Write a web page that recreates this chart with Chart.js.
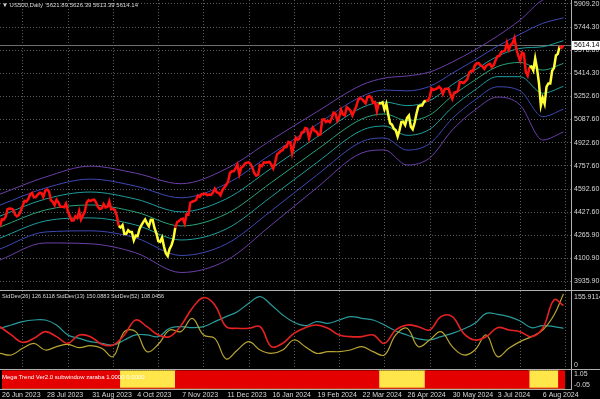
<!DOCTYPE html>
<html>
<head>
<meta charset="utf-8">
<script src="https://cdn.jsdelivr.net/npm/chart.js@4.4.1/dist/chart.umd.min.js"></script>
<style>
  body { margin: 0; background: #000; width: 600px; height: 399px; overflow: hidden; position: relative; }
  canvas { position: absolute; left: 0; }
</style>
</head>
<body>
<canvas id="mainChart" width="600" height="290" style="top:0"></canvas>
<canvas id="sdChart" width="600" height="79" style="top:290px"></canvas>
<canvas id="megaChart" width="600" height="30" style="top:369px"></canvas>
<script>
// US500 daily closes, one per bar (bar 0 = 26 Jun 2023)
const closes = [
  4328,4378,4376,4396,4450,4455,4453,4446,4412,4399,
  4409,4439,4472,4510,4505,4522,4555,4565,4534,4536,
  4554,4567,4566,4537,4582,4589,4577,4513,4502,4478,
  4518,4499,4467,4468,4464,4490,4437,4404,4370,4370,
  4399,4387,4436,4376,4406,4433,4497,4515,4508,4516,
  4518,4497,4465,4451,4457,4487,4462,4467,4505,4450,
  4453,4444,4402,4330,4320,4337,4274,4275,4300,4288,
  4288,4229,4263,4258,4308,4336,4358,4377,4349,4328,
  4374,4373,4315,4278,4224,4218,4248,4186,4137,4117,
  4167,4194,4237,4318,4358,4366,4378,4383,4347,4415,
  4411,4496,4503,4508,4514,4547,4538,4556,4558,4559,
  4550,4554,4551,4568,4595,4569,4567,4549,4585,4604,
  4622,4644,4707,4719,4719,4740,4768,4698,4746,4755,
  4775,4781,4783,4770,4743,4705,4689,4697,4764,4757,
  4783,4780,4784,4786,4766,4739,4781,4840,4850,4865,
  4869,4894,4891,4928,4925,4846,4906,4959,4943,4954,
  4995,4998,5027,5022,4953,5001,5030,5006,5000,4976,
  4982,5087,5089,5070,5078,5069,5096,5137,5130,5079,
  5105,5157,5124,5117,5175,5165,5150,5117,5149,5178,
  5225,5241,5234,5218,5203,5248,5254,5243,5205,5211,
  5147,5204,5202,5209,5160,5199,5123,5061,5051,5022,
  5011,4967,5011,5070,5071,5048,5100,5116,5036,5018,
  5064,5128,5181,5187,5187,5214,5223,5221,5247,5308,
  5297,5303,5308,5321,5307,5268,5305,5306,5306,5267,
  5235,5278,5283,5291,5354,5352,5347,5361,5375,5421,
  5434,5431,5473,5487,5488,5473,5464,5448,5469,5478,
  5483,5460,5475,5509,5537,5540,5567,5572,5577,5633,
  5584,5615,5631,5667,5588,5544,5505,5564,5555,5427,
  5399,5459,5464,5436,5522,5446,5346,5186,5240,5199,
  5319,5344,5344,5434,5455,5543,5554,5608,5597,5614.14
];
const lastBar = [5621.89, 5626.39, 5613.39, 5614.14];

// Mega Trend state: bar where each run starts, and whether it is up (red) or down (yellow)
const trendFrom = [0, 63, 93, 201, 226, 281, 297];
const trendUp   = [true, false, true, false, true, false, true];

const dateLabels = ['26 Jun 2023', '28 Jul 2023', '31 Aug 2023', '4 Oct 2023', '7 Nov 2023',
  '11 Dec 2023', '16 Jan 2024', '19 Feb 2024', '22 Mar 2024', '26 Apr 2024',
  '30 May 2024', '3 Jul 2024', '6 Aug 2024'];
const priceTicks = [5909.20, 5744.30, 5578.80, 5414.30, 5252.60, 5087.60, 4922.60,
  4757.60, 4592.60, 4427.60, 4265.90, 4100.90, 3935.90];

// envelope bands (outer, middle, inner, centre line ...)
const bandBars = [0, 24, 48, 72, 96, 120, 144, 168, 192, 204, 216, 228, 240, 252, 264, 276, 288, 299];
const bandU3  = [4557, 4678, 4756, 4706, 4631, 4737, 4942, 5141, 5333, 5382, 5397, 5425, 5496, 5582, 5681, 5795, 5937, 5972];
const bandU2  = [4479, 4600, 4664, 4614, 4531, 4630, 4841, 5051, 5252, 5297, 5291, 5323, 5416, 5510, 5609, 5694, 5771, 5810];
const bandU1  = [4401, 4522, 4572, 4522, 4431, 4523, 4741, 4961, 5172, 5212, 5186, 5221, 5335, 5439, 5537, 5593, 5605, 5648];
const bandMid = [4323, 4444, 4480, 4430, 4331, 4416, 4640, 4871, 5091, 5127, 5080, 5119, 5255, 5368, 5464, 5493, 5439, 5486];
const bandL1  = [4245, 4366, 4388, 4338, 4231, 4309, 4539, 4780, 5011, 5041, 4975, 5018, 5174, 5297, 5392, 5392, 5274, 5323];
const bandL2  = [4167, 4288, 4296, 4246, 4121, 4202, 4439, 4691, 4930, 4956, 4870, 4916, 5094, 5226, 5320, 5291, 5108, 5161];
const bandL3  = [4089, 4210, 4204, 4140, 4000, 4085, 4338, 4601, 4850, 4871, 4764, 4814, 5013, 5155, 5247, 5190, 4942, 4999];

// StdDev subwindow, sampled every 6 bars
const sdBars = [0,6,12,18,24,30,36,42,48,54,60,66,72,78,84,90,96,102,108,114,120,126,132,138,144,
  150,156,162,168,174,180,186,192,198,204,210,216,222,228,234,240,246,252,258,264,270,276,282,288,294,299];
const sd26 = [83.7,66.9,52.0,60.1,73.6,63.5,50.0,66.9,63.5,48.0,46.6,66.9,97.2,83.7,66.9,63.5,85.8,120.9,142.5,127.6,
  83.7,80.4,80.4,83.7,43.2,50.0,70.2,81.7,87.1,80.4,66.9,63.5,63.5,66.9,50.0,77.0,87.1,83.7,77.0,104.0,
  104.0,70.2,56.7,63.5,81.7,77.0,73.6,63.5,80.4,137.7,126.6];
const sd13 = [29.7,26.4,39.9,50.0,36.5,43.2,48.0,41.2,45.3,39.9,23.0,73.6,73.6,33.1,48.0,77.0,73.6,100.6,66.9,60.1,
  18.3,36.5,53.4,36.5,29.7,36.5,56.7,43.2,29.7,33.1,33.1,36.5,43.2,33.1,26.4,66.9,80.4,43.2,56.7,73.6,
  43.2,26.4,36.5,66.9,23.0,39.9,53.4,63.5,77.0,107.4,150.1];
const sd52 = [80.4,87.1,93.9,97.2,97.2,87.1,66.9,60.1,53.4,50.0,46.6,56.7,66.9,66.9,63.5,80.4,83.7,81.7,83.7,93.9,
  104.0,114.1,131.0,144.5,127.6,107.4,92.5,85.8,93.9,90.5,97.2,104.0,100.6,97.2,87.1,75.0,66.9,58.8,56.7,63.5,
  70.2,79.0,90.5,110.7,108.7,104.0,95.2,81.7,85.8,83.7,80.4];
const sdLegend = ['StdDev(26) 126.6118', 'StdDev(13) 150.0883', 'StdDev(52) 108.0456'];
const sdMax = 155.9114;

const FONT = '"Liberation Sans", Arial, sans-serif';
const TEXT = '#d8d8d8';
const GRID = '#5c5c5c';
const FRAME = '#b0b0b0';
const RED = '#ff1010';
const YELLOW = '#ffff33';
const X_MAX = 303;
const AXIS_W = 29;
const LABEL_EVERY = 24;
const GRID_SHIFT = 12.2;

function isUp(i) {
  let up = true;
  for (let k = 0; k < trendFrom.length; k++) if (i >= trendFrom[k]) up = trendUp[k];
  return up;
}
function pts(xs, ys) { return xs.map((x, i) => ({x: x, y: ys[i]})); }

function gridX() {
  return {
    type: 'linear', min: 0, max: X_MAX,
    afterBuildTicks: s => { s.ticks = dateLabels.map((_, i) => ({value: i * LABEL_EVERY + GRID_SHIFT})); },
    ticks: {display: false},
    grid: {color: GRID, drawTicks: false},
    border: {display: false, dash: [1, 2]},
    afterFit: s => { s.height = 0; }
  };
}

function band(data, color) {
  return {data: pts(bandBars, data), borderColor: color, borderWidth: 1, pointRadius: 0,
          cubicInterpolationMode: 'monotone', order: 2};
}

Chart.defaults.animation = false;
Chart.defaults.responsive = false;
Chart.defaults.devicePixelRatio = 1;
Chart.defaults.plugins.legend.display = false;
Chart.defaults.plugins.tooltip.enabled = false;

// main price window
new Chart(document.getElementById('mainChart'), {
  type: 'line',
  data: {
    datasets: [
      {
        data: pts(closes.map((_, i) => i), closes),
        borderWidth: 2.5, pointRadius: 0, tension: 0, order: 0,
        segment: { borderColor: c => isUp(c.p0DataIndex) ? RED : YELLOW }
      },
      band(bandU3, '#6b3fa8'), band(bandU2, '#3f48b4'), band(bandU1, '#1f9e9e'),
      band(bandMid, '#2aa37a'),
      band(bandL1, '#1f9e9e'), band(bandL2, '#3f48b4'), band(bandL3, '#6b3fa8')
    ]
  },
  options: {
    layout: {padding: 0},
    scales: {
      x: gridX(),
      y: {
        position: 'right', min: 3875.6, max: 5936.9,
        afterBuildTicks: s => { s.ticks = priceTicks.map(v => ({value: v})); },
        ticks: {color: TEXT, font: {family: FONT, size: 7}, padding: 3, autoSkip: false,
                callback: v => v.toFixed(2)},
        grid: {color: GRID, drawTicks: false},
        border: {display: false, dash: [1, 2]},
        afterFit: s => { s.width = AXIS_W; s.paddingTop = 0; s.paddingBottom = 0; }
      }
    }
  },
  plugins: [{
    id: 'mainDecor',
    beforeDatasetsDraw(chart) {
      const {ctx, chartArea, scales} = chart;
      const y = Math.round(scales.y.getPixelForValue(lastBar[3])) + 0.5;
      ctx.save();
      ctx.strokeStyle = '#6e6e6e';
      ctx.lineWidth = 1;
      ctx.beginPath(); ctx.moveTo(chartArea.left, y); ctx.lineTo(chartArea.right, y); ctx.stroke();
      ctx.restore();
    },
    afterDraw(chart) {
      const {ctx, chartArea, scales} = chart;
      ctx.save();
      ctx.strokeStyle = FRAME;
      ctx.lineWidth = 1;
      ctx.beginPath(); ctx.moveTo(chartArea.right + 0.5, 0); ctx.lineTo(chartArea.right + 0.5, chart.height); ctx.stroke();
      const y = scales.y.getPixelForValue(lastBar[3]);
      ctx.fillStyle = '#ffffff';
      ctx.fillRect(chartArea.right + 1, y - 4.5, 29, 9);
      ctx.fillStyle = '#000000';
      ctx.font = '7px ' + FONT;
      ctx.textBaseline = 'middle';
      ctx.fillText(lastBar[3].toFixed(2), chartArea.right + 3, y);
      ctx.fillStyle = TEXT;
      ctx.font = '6px ' + FONT;
      ctx.fillText('\u25BC US500,Daily  ' + lastBar.map(v => v.toFixed(2)).join(' '), 2, 5);
      ctx.restore();
    }
  }]
});

// StdDev window
new Chart(document.getElementById('sdChart'), {
  type: 'line',
  data: {
    datasets: [
      {data: pts(sdBars, sd26), borderColor: '#e52222', borderWidth: 1.6, pointRadius: 0, tension: 0.4},
      {data: pts(sdBars, sd13), borderColor: '#b8a432', borderWidth: 1.2, pointRadius: 0, tension: 0.4},
      {data: pts(sdBars, sd52), borderColor: '#2a9a9a', borderWidth: 1.2, pointRadius: 0, tension: 0.4}
    ]
  },
  options: {
    layout: {padding: {top: 1, bottom: 1}},
    scales: {
      x: gridX(),
      y: {
        position: 'right', min: 0, max: sdMax,
        ticks: {display: false}, grid: {display: false}, border: {display: false},
        afterFit: s => { s.width = AXIS_W; }
      }
    }
  },
  plugins: [{
    id: 'sdDecor',
    afterDraw(chart) {
      const {ctx, chartArea} = chart;
      ctx.save();
      ctx.strokeStyle = FRAME;
      ctx.lineWidth = 1;
      ctx.beginPath();
      ctx.moveTo(0, 0.5); ctx.lineTo(chart.width, 0.5);
      ctx.moveTo(chartArea.right + 0.5, 0); ctx.lineTo(chartArea.right + 0.5, chart.height);
      ctx.stroke();
      ctx.textBaseline = 'middle';
      ctx.fillStyle = TEXT;
      ctx.font = '5.6px ' + FONT;
      ctx.fillText(sdLegend.join(' '), 2, 6);
      ctx.font = '7px ' + FONT;
      ctx.fillText(sdMax.toFixed(4), chartArea.right + 3, 7);
      ctx.fillText('0', chartArea.right + 3, 75);
      ctx.restore();
    }
  }]
});

// Mega Trend window
new Chart(document.getElementById('megaChart'), {
  type: 'bar',
  data: {
    datasets: [
      {data: closes.map((_, i) => ({x: i, y: isUp(i) ? 1 : 0})), backgroundColor: '#e50000'},
      {data: closes.map((_, i) => ({x: i, y: isUp(i) ? 0 : 1})), backgroundColor: '#ffe64a'}
    ]
  },
  options: {
    layout: {padding: {top: 1}},
    datasets: {bar: {grouped: false, barThickness: 2.6, borderWidth: 0}},
    scales: {
      x: {
        type: 'linear', min: 0, max: X_MAX, offset: false,
        afterBuildTicks: s => { s.ticks = dateLabels.map((_, i) => ({value: i * LABEL_EVERY})); },
        ticks: {color: TEXT, font: {family: FONT, size: 7}, align: 'start', autoSkip: false,
                maxRotation: 0, padding: 2, callback: (v, i) => dateLabels[i]},
        grid: {display: false, drawTicks: false},
        border: {display: false},
        afterFit: s => { s.height = 10; }
      },
      y: {
        position: 'right', min: -0.05, max: 1.05,
        ticks: {display: false}, grid: {display: false}, border: {display: false},
        afterFit: s => { s.width = AXIS_W; }
      }
    }
  },
  plugins: [{
    id: 'megaDecor',
    afterDraw(chart) {
      const {ctx, chartArea} = chart;
      ctx.save();
      ctx.strokeStyle = FRAME;
      ctx.lineWidth = 1;
      ctx.beginPath();
      ctx.moveTo(0, 0.5); ctx.lineTo(chart.width, 0.5);
      ctx.moveTo(chartArea.right + 0.5, 0); ctx.lineTo(chartArea.right + 0.5, chartArea.bottom);
      ctx.moveTo(0, chartArea.bottom + 0.5); ctx.lineTo(chartArea.right + 1, chartArea.bottom + 0.5);
      ctx.stroke();
      ctx.textBaseline = 'middle';
      ctx.fillStyle = '#ffffff';
      ctx.font = '6px ' + FONT;
      ctx.fillText('Mega Trend Ver2.0 subwindow zaraba 1.0000 0.0000', 2, 8);
      ctx.fillStyle = TEXT;
      ctx.font = '7px ' + FONT;
      ctx.fillText('1.05', chartArea.right + 3, 5);
      ctx.fillText('-0.05', chartArea.right + 3, 16);
      ctx.restore();
    }
  }]
});
</script>
</body>
</html>
